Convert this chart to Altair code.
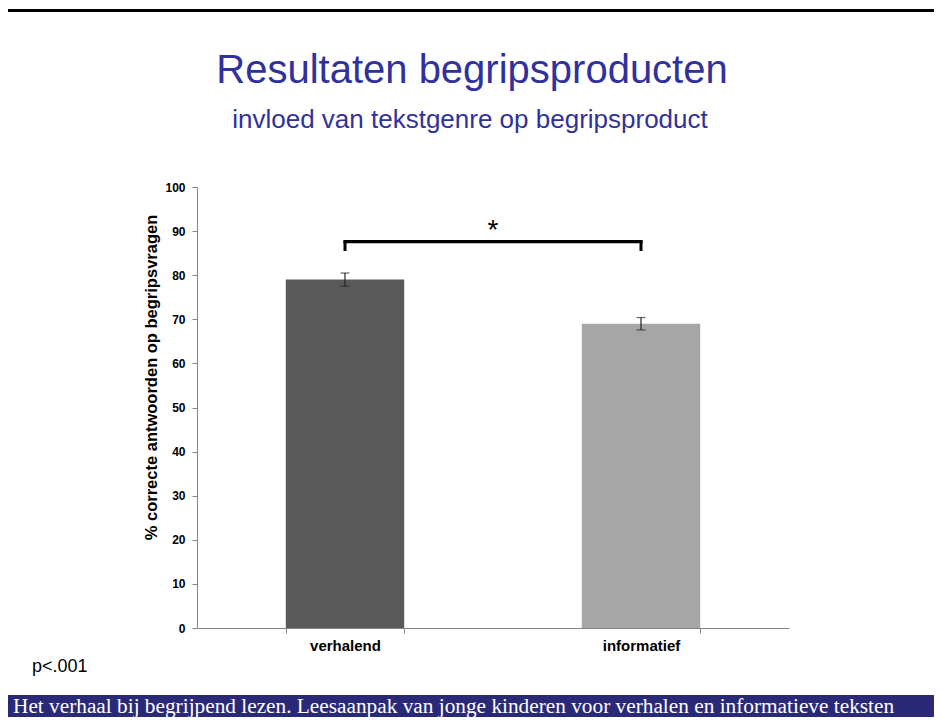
import altair as alt
import pandas as pd

# ---- data ----
categories = ["verhalend", "informatief"]
means = [79.0, 69.0]
errors = [1.5, 1.4]
bar_colors = ["#595959", "#a6a6a6"]
y_ticks = [0, 10, 20, 30, 40, 50, 60, 70, 80, 90, 100]
bracket_top = 87.6
bracket_bottom = 85.5
star_level = 88.2
title_text = ["Resultaten begripsproducten"]
subtitle_text = ["invloed van tekstgenre op begripsproduct"]
y_title = "% correcte antwoorden op begripsvragen"
p_text = ["p<.001"]
footer_text = ["Het verhaal bij begrijpend lezen. Leesaanpak van jonge kinderen voor verhalen en informatieve teksten"]
star_text = ["*"]

# ---- layout ----
W, H = 592, 441
PAD = {"left": 189, "top": 179, "right": 145, "bottom": 89}
SANS = "Liberation Sans"
SERIF = "Liberation Serif"
AXIS_GRAY = "#868686"
BLUE = "#31319b"
NAVY = "#2a2977"

df = pd.DataFrame({"genre": categories, "mean": means, "err": errors})
df["lo"] = df["mean"] - df["err"]
df["hi"] = df["mean"] + df["err"]

br = pd.DataFrame({"genre": categories,
                   "top": [bracket_top] * len(categories),
                   "bottom": [bracket_bottom] * len(categories)})

x_enc = alt.X(
    "genre:N",
    sort=categories,
    scale=alt.Scale(paddingInner=0.6, paddingOuter=0.3),
    axis=alt.Axis(
        title=None, labelAngle=0, labelFont=SANS, labelFontSize=15,
        labelFontWeight="bold", labelColor="black", labelPadding=5,
        tickBand="extent", tickSize=5, tickColor=AXIS_GRAY,
        domainColor=AXIS_GRAY, labelBaseline="top",
    ),
)
y_scale = alt.Scale(domain=[0, 100], nice=False)
y_axis = alt.Axis(
    values=y_ticks, grid=False, title=y_title,
    titleFont=SANS, titleFontSize=16.5, titleFontWeight="bold", titleColor="black",
    titleX=-38, titleY=190, titleAngle=270, titleAlign="center", titleBaseline="bottom",
    labelFont=SANS, labelFontSize=12, labelFontWeight="bold", labelColor="black",
    labelPadding=7, tickSize=5, tickColor=AXIS_GRAY, domainColor=AXIS_GRAY,
)

bars = alt.Chart(df).mark_bar().encode(
    x=x_enc,
    y=alt.Y("mean:Q", scale=y_scale, axis=y_axis, title=y_title),
    color=alt.Color("genre:N", scale=alt.Scale(domain=categories, range=bar_colors), legend=None),
)

err_rule = alt.Chart(df).mark_rule(color="#262626", strokeWidth=1.2).encode(
    x=alt.X("genre:N", sort=categories),
    y=alt.Y("lo:Q", scale=y_scale, title=y_title),
    y2="hi:Q",
)
cap_lo = alt.Chart(df).mark_tick(color="#262626", size=9, thickness=1.2).encode(
    x=alt.X("genre:N", sort=categories),
    y=alt.Y("lo:Q", scale=y_scale, title=y_title),
)
cap_hi = alt.Chart(df).mark_tick(color="#262626", size=9, thickness=1.2).encode(
    x=alt.X("genre:N", sort=categories),
    y=alt.Y("hi:Q", scale=y_scale, title=y_title),
)

bracket_line = alt.Chart(br).mark_line(color="black", strokeWidth=3.3, strokeCap="square").encode(
    x=alt.X("genre:N", sort=categories),
    y=alt.Y("top:Q", scale=y_scale, title=y_title),
)
bracket_drops = alt.Chart(br).mark_rule(color="black", strokeWidth=3).encode(
    x=alt.X("genre:N", sort=categories),
    y=alt.Y("top:Q", scale=y_scale, title=y_title),
    y2="bottom:Q",
)

star = alt.Chart(pd.DataFrame({"t": star_text, "lvl": [star_level]})).mark_text(
    font=SANS, fontSize=28, color="black", align="center", baseline="alphabetic"
).encode(
    x=alt.value(W / 2),
    y=alt.Y("lvl:Q", scale=y_scale, title=y_title),
    text="t:N",
)

title = alt.Chart(pd.DataFrame({"t": title_text})).mark_text(
    font=SANS, fontSize=40, color=BLUE, align="center", baseline="alphabetic"
).encode(x=alt.value(275), y=alt.value(-104), text="t:N")

subtitle = alt.Chart(pd.DataFrame({"t": subtitle_text})).mark_text(
    font=SANS, fontSize=26, color=BLUE, align="center", baseline="alphabetic"
).encode(x=alt.value(273), y=alt.value(-59), text="t:N")

ptxt = alt.Chart(pd.DataFrame({"t": p_text})).mark_text(
    font=SANS, fontSize=18, color="black", align="left", baseline="alphabetic"
).encode(x=alt.value(-165), y=alt.value(485), text="t:N")

footer_band = alt.Chart(pd.DataFrame({"t": footer_text})).mark_rect(color=NAVY).encode(
    x=alt.value(-189), x2=alt.value(737), y=alt.value(508), y2=alt.value(530)
)
footer = alt.Chart(pd.DataFrame({"t": footer_text})).mark_text(
    font=SERIF, fontSize=21.3, color="white", align="left", baseline="alphabetic"
).encode(x=alt.value(-184), y=alt.value(526), text="t:N")

top_border = alt.Chart(pd.DataFrame({"t": title_text})).mark_rect(color="black").encode(
    x=alt.value(-189), x2=alt.value(737), y=alt.value(-178), y2=alt.value(-175)
)

chart = alt.layer(
    bars, err_rule, cap_lo, cap_hi, bracket_line, bracket_drops, star,
    title, subtitle, ptxt, footer_band, footer, top_border,
).properties(
    width=W, height=H, padding=PAD, autosize=alt.AutoSizeParams(type="none"),
    background="white",
).configure_view(stroke=None)

chart.save("out.html", embed_options={"renderer": "svg", "actions": False})
